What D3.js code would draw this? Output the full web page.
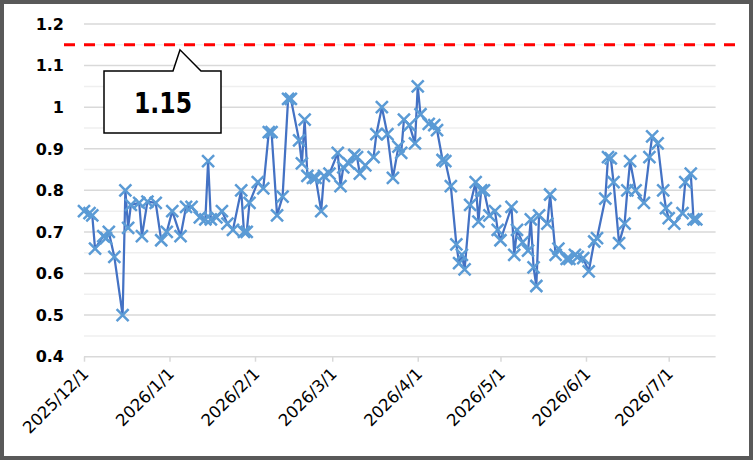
<!DOCTYPE html>
<html>
<head>
<meta charset="utf-8">
<script src="https://cdn.jsdelivr.net/npm/d3@7"></script>
<style>
  html, body { margin: 0; padding: 0; background: #fff; }
</style>
</head>
<body>
<div id="chart"></div>
<script>
// data
const dates = [
  "2025/12/1", "2025/12/3", "2025/12/4", "2025/12/5", "2025/12/8", "2025/12/9", "2025/12/10", "2025/12/12",
  "2025/12/15", "2025/12/16", "2025/12/17", "2025/12/18", "2025/12/21", "2025/12/22", "2025/12/24", "2025/12/27",
  "2025/12/29", "2025/12/31", "2026/1/2", "2026/1/5", "2026/1/7", "2026/1/9", "2026/1/12", "2026/1/14",
  "2026/1/15", "2026/1/16", "2026/1/18", "2026/1/20", "2026/1/22", "2026/1/24", "2026/1/27", "2026/1/28",
  "2026/1/29", "2026/1/30", "2026/2/2", "2026/2/4", "2026/2/6", "2026/2/7", "2026/2/9", "2026/2/11",
  "2026/2/13", "2026/2/14", "2026/2/17", "2026/2/18", "2026/2/19", "2026/2/20", "2026/2/22", "2026/2/23",
  "2026/2/25", "2026/2/26", "2026/2/28", "2026/3/3", "2026/3/4", "2026/3/5", "2026/3/7", "2026/3/9",
  "2026/3/10", "2026/3/11", "2026/3/13", "2026/3/16", "2026/3/17", "2026/3/19", "2026/3/21", "2026/3/23",
  "2026/3/25", "2026/3/26", "2026/3/27", "2026/3/29", "2026/3/31", "2026/4/1", "2026/4/2", "2026/4/5",
  "2026/4/7", "2026/4/8", "2026/4/10", "2026/4/11", "2026/4/13", "2026/4/15", "2026/4/16", "2026/4/17",
  "2026/4/18", "2026/4/20", "2026/4/22", "2026/4/23", "2026/4/24", "2026/4/25", "2026/4/27", "2026/4/29",
  "2026/4/30", "2026/5/1", "2026/5/5", "2026/5/6", "2026/5/7", "2026/5/9", "2026/5/11", "2026/5/12",
  "2026/5/13", "2026/5/14", "2026/5/15", "2026/5/18", "2026/5/19", "2026/5/21", "2026/5/22", "2026/5/25",
  "2026/5/26", "2026/5/28", "2026/5/29", "2026/5/31", "2026/6/2", "2026/6/4", "2026/6/5", "2026/6/8",
  "2026/6/9", "2026/6/10", "2026/6/11", "2026/6/13", "2026/6/15", "2026/6/16", "2026/6/17", "2026/6/19",
  "2026/6/22", "2026/6/24", "2026/6/25", "2026/6/27", "2026/6/29", "2026/6/30", "2026/7/1", "2026/7/3",
  "2026/7/6", "2026/7/7", "2026/7/9", "2026/7/10", "2026/7/11"
];
const values = [
  0.75, 0.745, 0.74, 0.66, 0.69, 0.685, 0.70, 0.64,
  0.50, 0.80, 0.71, 0.765, 0.77, 0.69, 0.773, 0.77,
  0.68, 0.70, 0.75, 0.69, 0.76, 0.76, 0.735, 0.73,
  0.87, 0.73, 0.735, 0.75, 0.72, 0.705, 0.80, 0.70,
  0.70, 0.77, 0.82, 0.805, 0.94, 0.94, 0.74, 0.785,
  1.02, 1.02, 0.92, 0.865, 0.97, 0.835, 0.83, 0.83,
  0.75, 0.835, 0.84, 0.89, 0.81, 0.855, 0.865, 0.885,
  0.88, 0.84, 0.86, 0.88, 0.935, 1.00, 0.935, 0.83,
  0.905, 0.89, 0.97, 0.957, 0.913, 1.05, 0.983, 0.96,
  0.957, 0.945, 0.873, 0.87, 0.81, 0.67, 0.625, 0.645,
  0.61, 0.765, 0.82, 0.725, 0.80, 0.80, 0.74, 0.75,
  0.705, 0.68, 0.76, 0.645, 0.705, 0.675, 0.655, 0.73,
  0.615, 0.57, 0.74, 0.72, 0.79, 0.645, 0.66, 0.635,
  0.635, 0.645, 0.64, 0.637, 0.605, 0.677, 0.685, 0.78,
  0.88, 0.877, 0.82, 0.673, 0.72, 0.80, 0.87, 0.80,
  0.77, 0.88, 0.93, 0.913, 0.80, 0.757, 0.733, 0.72,
  0.745, 0.82, 0.84, 0.73, 0.73
];
const yTicks = [0.4, 0.5, 0.6, 0.7, 0.8, 0.9, 1.0, 1.1, 1.2];
const yMinor = [0.45, 0.55, 0.65, 0.75, 0.85, 0.95, 1.05, 1.15];
const axisStart = "2025/12/1";
const axisEnd = "2026/7/18";
const targetValue = 1.15;
const targetLabel = "1.15";

const width = 753, height = 460;
const margin = { top: 24, right: 37.4, bottom: 103.3, left: 84 };
const parse = d3.utcParse("%Y/%m/%d");
const fmt = d3.utcFormat("%Y/%-m/%-d");

const svg = d3.select("#chart")
  .append("svg")
  .attr("width", width)
  .attr("height", height)
  .style("display", "block");

// white background + grey outer frame
svg.append("rect")
  .attr("x", 2).attr("y", 2)
  .attr("width", width - 4).attr("height", height - 4)
  .style("fill", "#ffffff")
  .style("stroke", "#595959")
  .style("stroke-width", "4px");

const x = d3.scaleUtc()
  .domain([parse(axisStart), parse(axisEnd)])
  .range([margin.left, width - margin.right]);

const y = d3.scaleLinear()
  .domain([0.4, 1.2])
  .range([height - margin.bottom, margin.top]);

// minor gridlines
svg.append("g")
  .selectAll("line")
  .data(yMinor)
  .enter().append("line")
  .attr("x1", x.range()[0]).attr("x2", x.range()[1])
  .attr("y1", d => y(d)).attr("y2", d => y(d))
  .attr("stroke", "#efefef")
  .attr("stroke-width", 1.5);

// major gridlines
svg.append("g")
  .selectAll("line")
  .data(yTicks)
  .enter().append("line")
  .attr("x1", x.range()[0]).attr("x2", x.range()[1])
  .attr("y1", d => y(d)).attr("y2", d => y(d))
  .attr("stroke", "#d9d9d9")
  .attr("stroke-width", 1.5);

// y labels
svg.append("g")
  .selectAll("text")
  .data(yTicks)
  .enter().append("text")
  .attr("x", 64)
  .attr("y", d => y(d))
  .attr("dy", "0.36em")
  .attr("text-anchor", "end")
  .style("font-family", "DejaVu Sans")
  .style("font-weight", "bold")
  .style("font-size", "16px")
  .attr("fill", "#000")
  .text(d => d3.format("")(+d.toFixed(1)));

// x axis (month ticks)
const xAxis = d3.axisBottom(x)
  .tickValues(d3.utcMonth.range(parse(axisStart), parse(axisEnd)))
  .tickFormat(fmt)
  .tickSize(5)
  .tickPadding(4);

const gx = svg.append("g")
  .attr("transform", `translate(0,${y(0.4)})`)
  .call(xAxis);
gx.select(".domain").remove();
gx.selectAll(".tick line").attr("stroke", "#d9d9d9").attr("stroke-width", 1.5);
gx.selectAll(".tick text")
  .attr("text-anchor", "end")
  .attr("fill", "#000")
  .style("font-family", "DejaVu Sans")
  .style("font-size", "16.5px")
  .attr("transform", "translate(1,14) rotate(-45)")
  .attr("dy", "0.35em")
  .attr("y", 0).attr("x", 0);

// target line (red dashed)
svg.append("line")
  .attr("x1", 64).attr("x2", 740)
  .attr("y1", y(targetValue)).attr("y2", y(targetValue))
  .attr("stroke", "#ff0000")
  .attr("stroke-width", 3)
  .attr("stroke-dasharray", "11,9");

// callout with value
const ty = y(targetValue);
svg.append("path")
  .attr("d", `M104,71 L173,71 L180,${ty + 5} L201,71 L221,71 L221,133 L104,133 Z`)
  .attr("fill", "#fff")
  .attr("stroke", "#000")
  .attr("stroke-width", 1.5);
svg.append("text")
  .attr("x", 163)
  .attr("y", 113)
  .attr("text-anchor", "middle")
  .attr("textLength", 58)
  .attr("lengthAdjust", "spacingAndGlyphs")
  .style("font-family", "DejaVu Sans")
  .style("font-weight", "bold")
  .style("font-size", "29px")
  .text(targetLabel);

// series
const data = dates.map((d, i) => ({ date: parse(d), value: values[i] }));

const line = d3.line()
  .x(d => x(d.date))
  .y(d => y(d.value));

svg.append("path")
  .datum(data)
  .attr("fill", "none")
  .attr("stroke", "#4472c4")
  .attr("stroke-width", 2.25)
  .attr("stroke-linejoin", "round")
  .attr("d", line);

// x markers
const m = 6;
svg.append("g")
  .selectAll("path")
  .data(data)
  .enter().append("path")
  .attr("transform", d => `translate(${x(d.date)},${y(d.value)})`)
  .attr("d", `M${-m},${-m}L${m},${m}M${-m},${m}L${m},${-m}`)
  .attr("stroke", "#5b9bd5")
  .attr("stroke-width", 2.5)
  .attr("fill", "none");
</script>
</body>
</html>
